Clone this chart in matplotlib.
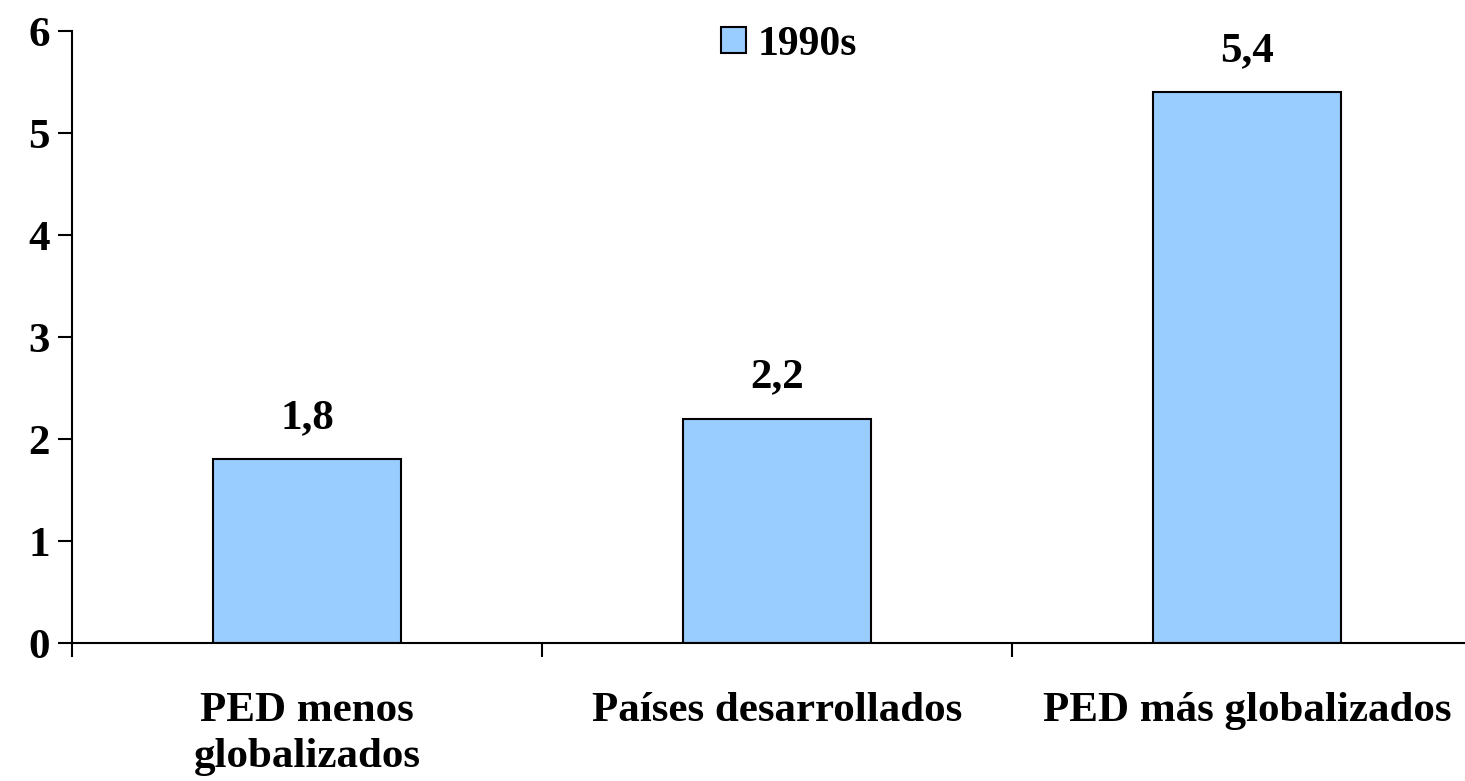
import matplotlib.pyplot as plt
import numpy as np

categories = ['PED menos\nglobalizados', 'Países desarrollados', 'PED más globalizados']
values = [1.8, 2.2, 5.4]
value_labels = ['1,8', '2,2', '5,4']
series_name = '1990s'

plt.rcParams['font.family'] = ['Liberation Serif', 'DejaVu Serif']
plt.rcParams['font.weight'] = 'bold'

fig = plt.figure(figsize=(14.65, 7.81), dpi=100)
ax = fig.add_axes([72 / 1465, 1 - 643 / 781, 1410 / 1465, 612 / 781])

x = np.arange(len(categories))
bars = ax.bar(x, values, width=0.4, color='#99CCFF', edgecolor='black', linewidth=1.5,
              label=series_name, zorder=2)

for b, lab in zip(bars, value_labels):
    ax.annotate(lab, (b.get_x() + b.get_width() / 2, b.get_height()),
                xytext=(0, 16), textcoords='offset points', ha='center', va='bottom',
                fontsize=31, fontweight='bold')

ax.set_xlim(-0.5, 2.5)
ax.set_ylim(0, 6)
ax.set_yticks(range(0, 7))
ax.tick_params(axis='y', labelsize=31, length=10, width=1.5, direction='out', pad=6)

ax.set_xticks([-0.5, 0.5, 1.5, 2.5])
ax.set_xticklabels([])
ax.set_xticks(x, minor=True)
ax.set_xticklabels(categories, minor=True, fontsize=31, fontweight='bold', linespacing=1.3)
ax.tick_params(axis='x', which='major', length=10, width=1.5, direction='out')
ax.tick_params(axis='x', which='minor', length=0, pad=35)

for s in ['top', 'right']:
    ax.spines[s].set_visible(False)
for s in ['left', 'bottom']:
    ax.spines[s].set_linewidth(1.5)

ax.legend(loc='upper center', bbox_to_anchor=(0.5 + 12 / 1410, 1.07), frameon=False,
          fontsize=30, handlelength=0.6, handleheight=0.6, handletextpad=0.3)

fig.savefig('out.png', dpi=100)
